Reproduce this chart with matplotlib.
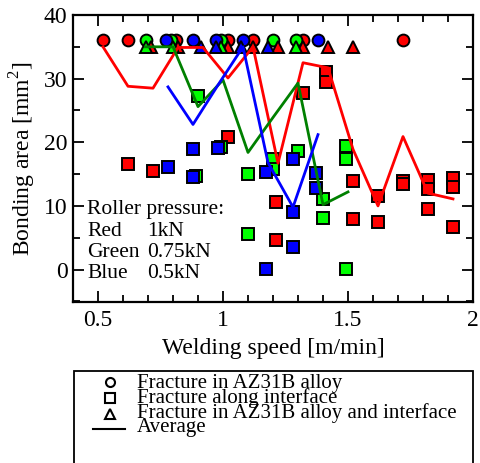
import matplotlib
matplotlib.use("Agg")
import matplotlib.pyplot as plt
from matplotlib.lines import Line2D
from matplotlib.patches import Rectangle
from matplotlib.ticker import MultipleLocator

plt.rcParams['font.family'] = ['Liberation Serif', 'DejaVu Serif']
plt.rcParams['mathtext.fontset'] = 'custom'
plt.rcParams['mathtext.rm'] = 'Liberation Serif'

# ---------------- data ----------------
# Fracture in AZ31B alloy (circles, y = 36)
circ_red_x = [0.52, 0.62, 0.81, 1.02, 1.12, 1.32, 1.72]
circ_green_x = [0.69, 0.79, 0.99, 1.20, 1.29]
circ_blue_x = [0.77, 0.88, 0.97, 1.08, 1.38]
circ_y = 36

# Fracture in AZ31B alloy and interface (triangles, y = 35)
tri_red_x = [0.71, 0.82, 1.02, 1.12, 1.22, 1.32, 1.42, 1.52]
tri_green_x = [0.69, 0.80, 0.99, 1.29]
tri_blue_x = [0.91, 0.97, 1.07, 1.18]
tri_y = 35

# Fracture along interface (squares)
sq_red_x = [0.62, 0.72, 1.02, 1.21, 1.21, 1.32, 1.41, 1.41, 1.52, 1.52,
            1.62, 1.62, 1.72, 1.72, 1.82, 1.82, 1.82, 1.92, 1.92, 1.92]
sq_red_y = [16.6, 15.5, 20.9, 10.6, 4.6, 27.8, 31.1, 29.4, 13.9, 7.9,
            11.5, 7.5, 13.9, 13.5, 14.1, 12.7, 9.5, 14.4, 12.9, 6.7]
sq_green_x = [0.90, 0.89, 0.99, 1.10, 1.10, 1.20, 1.20, 1.30, 1.40, 1.40,
              1.49, 1.49, 1.49]
sq_green_y = [27.3, 14.7, 19.3, 15.0, 5.6, 17.4, 15.8, 18.7, 11.1, 8.1,
              19.4, 17.4, 0.1]
sq_blue_x = [0.78, 0.88, 0.88, 0.98, 1.17, 1.17, 1.28, 1.28, 1.28, 1.37, 1.37]
sq_blue_y = [16.1, 19.0, 14.6, 19.1, 15.3, 0.1, 17.4, 9.0, 3.6, 15.2, 12.8]

# Averages
avg_red_x = [0.52, 0.62, 0.72, 0.82, 0.92, 1.02, 1.12, 1.22, 1.32, 1.42,
             1.52, 1.62, 1.72, 1.82, 1.92]
avg_red_y = [35.0, 28.8, 28.5, 34.9, 34.9, 30.1, 35.0, 16.7, 32.5, 31.7,
             18.9, 10.0, 20.9, 12.0, 11.1]
avg_green_x = [0.69, 0.80, 0.90, 1.00, 1.10, 1.20, 1.30, 1.40, 1.50]
avg_green_y = [35.0, 35.0, 25.6, 29.8, 18.4, 23.9, 29.3, 10.2, 12.2]
avg_blue_x = [0.78, 0.88, 0.98, 1.08, 1.18, 1.28, 1.38]
avg_blue_y = [28.7, 22.8, 29.0, 35.0, 16.8, 9.8, 21.2]

pressure_names = ["Red", "Green", "Blue"]
pressure_vals = ["1kN", "0.75kN", "0.5kN"]
legend_labels = ["Fracture in AZ31B alloy", "Fracture along interface",
                 "Fracture in AZ31B alloy and interface", "Average"]
legend_markers = ['o', 's', '^', None]

# ---------------- figure ----------------
fig = plt.figure(figsize=(4.8, 4.63), dpi=100)
W, H = 480, 463
ax = fig.add_axes([73 / W, 1 - 302 / H, 400 / W, 287 / H])

RED, GREEN, BLUE = '#ff0000', '#00ff00', '#0000ff'
ms = 8.5
mew = 1.4
kw = dict(linestyle='none', markeredgecolor='black', markeredgewidth=mew,
          markersize=ms, zorder=3)

ax.plot(sq_red_x, sq_red_y, marker='s', markerfacecolor=RED, **kw)
ax.plot(sq_green_x, sq_green_y, marker='s', markerfacecolor=GREEN, **kw)
ax.plot(sq_blue_x, sq_blue_y, marker='s', markerfacecolor=BLUE, **kw)

ax.plot(circ_red_x, [circ_y] * len(circ_red_x), marker='o', markerfacecolor=RED, **kw)
ax.plot(circ_green_x, [circ_y] * len(circ_green_x), marker='o', markerfacecolor=GREEN, **kw)
ax.plot(circ_blue_x, [circ_y] * len(circ_blue_x), marker='o', markerfacecolor=BLUE, **kw)

ax.plot(tri_red_x, [tri_y] * len(tri_red_x), marker='^', markerfacecolor=RED, **kw)
ax.plot(tri_green_x, [tri_y] * len(tri_green_x), marker='^', markerfacecolor=GREEN, **kw)
ax.plot(tri_blue_x, [tri_y] * len(tri_blue_x), marker='^', markerfacecolor=BLUE, **kw)

lw = 2.0
ax.plot(avg_red_x, avg_red_y, color='#ff0000', lw=lw, zorder=4)
ax.plot(avg_green_x, avg_green_y, color='#008000', lw=lw, zorder=4)
ax.plot(avg_blue_x, avg_blue_y, color='#0000ff', lw=lw, zorder=4)

ax.set_xlim(0.4, 2.0)
ax.set_ylim(-5.1, 40)
ax.xaxis.set_minor_locator(MultipleLocator(0.1))
ax.yaxis.set_minor_locator(MultipleLocator(5))
ax.set_xticks([0.5, 1.0, 1.5, 2.0])
ax.set_xticklabels(["0.5", "1", "1.5", "2"])
ax.set_yticks([0, 10, 20, 30, 40])
ax.set_yticklabels(["0", "10", "20", "30", "40"])
ax.tick_params(which='both', direction='in', top=True, right=True,
               labelsize=17, width=1.3)
ax.tick_params(which='major', length=8)
ax.tick_params(which='minor', length=5)
ax.tick_params(axis='x', pad=6)
ax.tick_params(axis='y', pad=4)
for s in ax.spines.values():
    s.set_linewidth(1.6)

ax.set_xlabel("Welding speed [m/min]", fontsize=17, labelpad=5)
ax.set_ylabel("Bonding area [mm$^2$]", fontsize=17, labelpad=4)

# Roller pressure annotation
ax.text(0.456, 9.4, "Roller pressure:", fontsize=15.5, va='center', ha='left')
row_y = [5.9, 2.6, -0.7]
for name, val, yy in zip(pressure_names, pressure_vals, row_y):
    ax.text(0.456, yy, name, fontsize=15.5, va='center', ha='left')
    ax.text(0.696, yy, val, fontsize=15.5, va='center', ha='left')

# Legend box (continues below the figure edge, as in the reference)
rect = Rectangle((74 / W, -0.05), 399 / W, 1 - 371 / H + 0.05,
                 transform=fig.transFigure, fill=False, edgecolor='black',
                 linewidth=1.3, clip_on=False)
fig.add_artist(rect)

row_centers = [382, 398, 413.5, 429]
for mk, yc in zip(legend_markers, row_centers):
    yf = 1 - yc / H
    if mk is None:
        fig.add_artist(Line2D([93 / W, 125 / W], [yf, yf], color='black',
                              lw=1.5, transform=fig.transFigure))
    else:
        fig.add_artist(Line2D([110 / W], [yf], marker=mk, linestyle='none',
                              markerfacecolor='white', markeredgecolor='black',
                              markeredgewidth=1.5, markersize=6.5,
                              transform=fig.transFigure))
# one multi-line text block, tightly spaced as in the reference
fig.text(137 / W, 1 - (row_centers[0] + row_centers[-1]) / 2 / H,
         "\n".join(legend_labels), fontsize=15, va='center', ha='left',
         linespacing=0.67)

fig.savefig("out.png", dpi=100)
